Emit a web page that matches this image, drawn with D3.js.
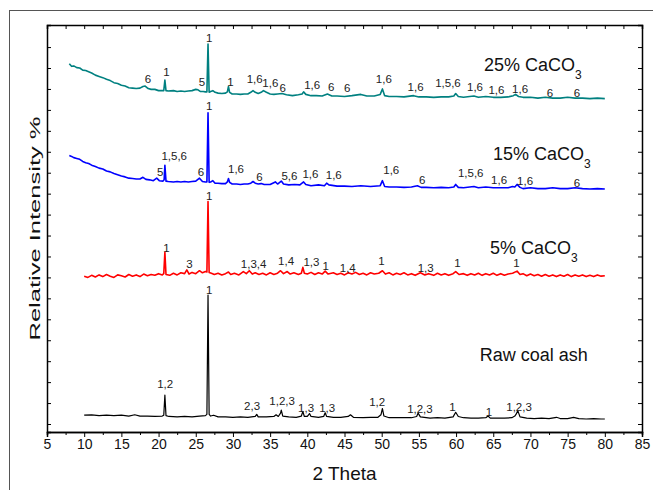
<!DOCTYPE html>
<html><head><meta charset="utf-8">
<script src="https://cdn.jsdelivr.net/npm/d3@7"></script>
<style>body{margin:0;background:#fff}svg{display:block}</style>
</head><body>
<svg id="c" width="653" height="490"></svg>
<script>
// ---------- DATA ----------
const xMajorTicks = d3.range(5, 86, 5);
const xMinorTicks = d3.range(7.5, 85, 5);
const yTicks = d3.range(0, 91, 5);

const coal25 = [[8.0,86.0],[8.3,85.4],[8.6,85.5],[9.0,85.1],[9.4,85.0],[9.8,84.5],[10.2,84.4],[10.6,84.1],[11.0,83.8],[11.5,83.3],[12.0,83.0],[12.5,82.7],[13.0,82.3],[13.5,82.0],[14.0,81.5],[14.5,81.3],[15.0,80.9],[15.5,80.7],[16.0,80.3],[16.5,80.2],[17.0,80.1],[17.5,80.2],[17.9,80.6],[18.2,80.7],[18.6,80.1],[19.0,79.9],[19.5,79.9],[20.0,79.6],[20.5,79.6],[20.7,79.6],[20.85,82.1],[21.0,79.6],[21.3,79.5],[22.0,79.6],[22.5,79.4],[23.0,79.5],[23.5,79.4],[24.0,79.5],[24.5,79.6],[25.0,79.9],[25.3,79.8],[25.6,79.4],[26.0,79.4],[26.3,79.3],[26.5,79.3],[26.65,90.7],[26.8,79.2],[27.0,79.4],[27.3,79.6],[27.6,79.2],[28.0,79.0],[28.5,78.9],[29.0,79.0],[29.25,79.3],[29.4,80.6],[29.55,79.2],[29.9,78.8],[30.5,78.8],[31.0,78.7],[31.5,78.8],[32.0,78.8],[32.4,79.2],[32.7,79.6],[33.0,79.2],[33.4,78.9],[33.8,79.2],[34.1,79.6],[34.5,79.2],[35.0,78.8],[35.5,78.7],[36.0,78.8],[36.6,78.9],[37.2,78.6],[38.0,78.4],[38.8,78.6],[39.3,78.8],[39.5,79.3],[39.8,78.7],[40.5,78.4],[41.2,78.4],[42.0,78.3],[42.7,78.8],[43.3,78.3],[44.0,78.3],[45.0,78.2],[46.0,78.4],[47.2,78.7],[48.0,78.3],[49.0,78.3],[49.8,78.7],[50.1,80.0],[50.4,78.4],[51.0,78.2],[52.0,78.2],[53.0,78.1],[54.3,78.4],[55.0,78.1],[56.0,78.1],[57.0,78.0],[58.0,78.1],[59.0,78.1],[59.7,78.3],[59.95,78.9],[60.3,78.2],[61.0,78.0],[62.4,78.3],[63.0,78.0],[64.0,78.2],[65.0,78.0],[66.0,78.0],[67.0,78.1],[67.7,78.4],[68.0,78.7],[68.4,78.2],[69.0,78.0],[70.0,78.0],[71.0,77.8],[72.0,78.0],[73.0,77.8],[74.0,77.8],[75.0,78.0],[76.0,77.8],[77.0,77.8],[78.0,77.7],[79.0,77.8],[80.0,77.7]];

const coal15 = [[8.0,64.1],[8.3,63.9],[8.6,63.6],[9.0,63.4],[9.4,63.2],[9.8,62.7],[10.2,62.4],[10.6,62.2],[11.0,61.8],[11.5,61.5],[12.0,61.1],[12.5,60.9],[13.0,60.4],[13.5,60.2],[14.0,59.8],[14.5,59.5],[15.0,59.2],[15.5,59.0],[16.0,58.7],[16.5,58.6],[17.0,58.5],[17.5,58.5],[17.9,58.9],[18.3,58.4],[18.8,58.3],[19.3,58.1],[19.75,58.7],[20.1,58.1],[20.6,58.0],[20.75,58.3],[20.85,61.8],[21.0,58.0],[21.3,57.9],[22.0,57.8],[22.5,57.9],[23.0,57.8],[23.5,57.9],[24.0,57.8],[24.5,57.9],[25.0,58.0],[25.5,58.7],[25.9,57.9],[26.3,57.8],[26.5,57.8],[26.65,74.3],[26.8,57.7],[27.0,57.8],[27.3,58.1],[27.6,57.5],[28.0,57.5],[28.5,57.4],[29.0,57.4],[29.25,57.8],[29.4,58.6],[29.55,57.7],[29.9,57.3],[30.5,57.3],[31.0,57.2],[31.5,57.3],[32.0,57.3],[32.4,57.5],[32.7,57.9],[33.0,57.5],[33.4,57.3],[33.8,57.4],[34.2,57.2],[35.0,57.2],[35.7,57.8],[36.0,57.3],[36.5,58.0],[36.8,57.3],[37.5,57.1],[38.3,57.2],[39.0,57.1],[39.5,57.8],[39.8,57.2],[40.5,56.9],[41.5,57.1],[42.3,56.9],[42.6,57.5],[42.9,57.1],[44.0,56.8],[45.0,56.8],[46.0,56.7],[47.2,56.9],[48.5,56.7],[49.8,56.9],[50.1,58.1],[50.4,56.7],[51.0,56.6],[52.0,56.6],[53.0,56.5],[54.0,56.6],[54.8,56.9],[55.3,56.5],[56.0,56.5],[57.0,56.4],[58.0,56.5],[59.0,56.4],[59.7,56.6],[59.95,57.2],[60.3,56.5],[61.0,56.4],[62.4,56.7],[63.0,56.4],[64.0,56.6],[65.0,56.4],[66.0,56.4],[67.0,56.4],[67.6,56.7],[67.9,56.6],[68.2,57.2],[68.6,56.5],[69.0,56.2],[70.0,56.4],[71.0,56.2],[72.0,56.2],[73.0,56.4],[74.0,56.2],[75.0,56.2],[76.0,56.4],[77.0,56.2],[78.0,56.1],[79.0,56.2],[80.0,56.1]];

const coal5 = [[10.0,35.3],[10.5,35.0],[11.0,35.5],[11.5,35.1],[12.0,35.6],[12.5,35.2],[13.0,35.7],[13.5,35.3],[14.0,35.0],[14.5,35.6],[15.0,35.4],[15.5,35.1],[16.0,35.7],[16.5,35.3],[17.0,35.6],[17.5,35.2],[18.0,35.8],[18.5,35.4],[19.0,35.7],[19.5,35.5],[20.0,35.9],[20.5,35.6],[20.7,35.9],[20.85,41.0],[21.0,35.7],[21.5,35.5],[22.0,36.0],[22.5,35.6],[23.0,36.1],[23.5,35.9],[23.8,36.8],[24.1,35.8],[24.5,36.2],[25.0,35.9],[25.5,36.6],[25.9,36.1],[26.3,36.4],[26.5,36.3],[26.65,53.1],[26.8,36.2],[27.1,36.0],[27.5,35.7],[28.0,36.0],[28.5,35.6],[29.0,35.9],[29.4,36.3],[29.7,35.7],[30.2,36.0],[30.8,35.6],[31.4,36.4],[31.8,35.9],[32.2,36.6],[32.6,35.8],[33.0,36.1],[33.5,35.7],[34.0,36.0],[34.5,35.6],[35.0,36.1],[35.5,35.7],[36.0,36.0],[36.4,36.6],[36.8,35.9],[37.3,36.4],[37.7,35.8],[38.2,36.1],[38.8,35.7],[39.2,36.0],[39.4,37.4],[39.6,36.0],[40.0,35.8],[40.5,36.2],[41.0,35.7],[41.5,36.1],[42.0,35.8],[42.4,36.5],[42.8,35.8],[43.5,36.1],[44.0,35.7],[44.5,36.0],[45.0,35.6],[45.5,36.1],[46.0,35.8],[46.5,36.2],[47.0,35.7],[47.5,36.0],[48.0,35.6],[48.5,36.1],[49.0,35.8],[49.6,36.0],[50.1,36.6],[50.5,35.8],[51.0,36.1],[51.5,35.6],[52.0,36.0],[52.5,35.7],[53.0,36.1],[53.5,35.6],[54.0,35.9],[54.5,35.5],[55.2,36.1],[55.8,35.6],[56.3,35.9],[57.0,35.5],[57.5,36.0],[58.0,35.6],[58.5,35.9],[59.0,35.5],[59.6,35.9],[59.95,36.4],[60.4,35.7],[61.0,35.9],[61.5,35.5],[62.0,35.9],[62.5,35.6],[63.0,36.0],[63.5,35.5],[64.0,35.9],[64.5,35.6],[65.0,36.0],[65.5,35.5],[66.0,35.9],[66.5,35.5],[67.0,35.8],[67.6,36.0],[68.2,36.5],[68.6,35.7],[69.0,35.9],[69.5,35.4],[70.0,35.8],[70.5,35.4],[71.0,35.7],[71.5,35.3],[72.0,35.7],[72.5,35.3],[73.0,35.6],[73.5,35.2],[74.0,35.6],[74.5,35.3],[75.0,35.7],[75.5,35.2],[76.0,35.6],[76.5,35.3],[77.0,35.6],[77.5,35.2],[78.0,35.5],[78.5,35.2],[79.0,35.6],[79.5,35.3],[80.0,35.4]];

const rawAsh = [[10.0,2.1],[11.0,2.2],[12.0,2.0],[13.0,2.1],[14.0,2.0],[15.0,2.1],[16.0,1.9],[16.8,2.2],[17.5,1.9],[18.5,1.9],[19.5,1.8],[20.5,1.9],[20.7,2.1],[20.85,6.9],[21.0,2.0],[21.4,1.8],[22.5,1.7],[23.5,1.8],[24.5,1.7],[25.5,1.9],[26.3,2.0],[26.5,2.3],[26.65,30.8],[26.8,2.3],[27.0,1.9],[27.4,2.1],[28.0,1.7],[29.0,1.7],[30.0,1.6],[31.0,1.7],[32.0,1.6],[33.0,1.8],[33.2,2.3],[33.4,1.7],[34.5,1.7],[35.5,1.8],[35.8,2.2],[36.1,1.8],[36.4,2.6],[36.5,3.3],[36.7,1.9],[37.5,1.7],[38.5,1.6],[39.2,1.9],[39.4,3.0],[39.6,1.8],[40.0,1.8],[40.3,2.5],[40.5,1.8],[41.5,1.6],[42.2,1.8],[42.4,2.7],[42.6,1.8],[43.5,1.6],[44.5,1.6],[45.5,1.8],[45.8,2.2],[46.2,1.6],[47.5,1.5],[48.5,1.6],[49.5,1.6],[49.9,2.2],[50.1,3.7],[50.3,1.9],[51.0,1.5],[52.0,1.5],[53.0,1.5],[54.0,1.5],[54.7,1.8],[54.9,2.6],[55.2,1.7],[56.5,1.4],[57.5,1.5],[58.5,1.4],[59.6,1.7],[59.95,2.8],[60.3,1.8],[61.0,1.5],[62.0,1.4],[63.0,1.4],[64.0,1.5],[64.3,1.9],[64.6,1.4],[65.5,1.4],[66.5,1.4],[67.5,1.5],[67.9,1.9],[68.1,2.4],[68.3,3.2],[68.6,1.7],[69.5,1.4],[70.5,1.3],[71.5,1.4],[72.5,1.3],[73.5,1.6],[74.0,1.3],[75.0,1.3],[75.8,1.6],[76.5,1.3],[77.5,1.2],[78.5,1.3],[79.5,1.2],[80.0,1.2]];

// peak annotations: [text, 2theta, intensity]
const peaks25 = [["6",18.56,82.4],["1",21.07,84.0],["5",25.84,81.6],["1",26.82,92.1],["1",29.65,81.6],["1,6",32.92,82.4],["1,6",35.03,81.35],["6",36.69,80.3],["1,6",40.65,80.9],["6",43.21,80.5],["6",45.36,80.2],["1,6",50.29,82.3],["1,6",54.56,80.5],["1,5,6",58.91,81.35],["1,6",62.55,80.5],["1,6",65.43,79.75],["1,6",68.61,79.9],["6",72.61,79.1],["6",76.25,79.1]];
const peaks15 = [["5",20.22,60.1],["1,5,6",22.1,64.06],["6",25.7,60.1],["1",26.82,75.9],["1,6",30.41,60.9],["6",33.55,59.05],["5,6",37.59,59.2],["1,6",40.42,59.7],["1,6",43.56,59.5],["1,6",51.29,60.65],["6",55.46,58.26],["1,5,6",61.97,59.86],["1,6",65.78,58.26],["1,6",69.28,58.0],["6",76.25,57.5]];
const peaks5 = [["1",21.07,41.95],["3",24.17,38.13],["1",26.82,54.44],["1,3,4",32.78,38.2],["1,4",37.15,39.0],["1,3",40.56,38.75],["1",42.48,37.73],["1,4",45.44,37.32],["1",49.98,38.92],["1,3",55.91,37.32],["1",60.18,38.5],["1",68.12,38.5]];
const peaksRaw = [["1,2",20.89,9.55],["1",26.82,32.0],["2,3",32.57,4.37],["1,2,3",36.61,5.56],["1,3",39.84,3.75],["1,3",42.67,3.89],["1,2",49.4,5.32],["1,2,3",55.14,3.51],["1",59.5,4.13],["1",64.43,2.94],["1,2,3",68.47,4.13]];

// series names: [main, subscript, 2theta (left edge), intensity]
const seriesNames = [["25% CaCO","3",63.76,85.7],["15% CaCO","3",64.97,64.6],["5% CaCO","3",64.57,42.1],["Raw coal ash","",63.18,16.5]];
const seriesColors = ["#008080","#0000ff","#ff0000","#000000"];

// ---------- DRAW ----------
const svg = d3.select("#c");
const L = 47, R = 642, T = 25, B = 432;
const x = d3.scaleLinear().domain([5, 85]).range([L, R]);
const y = d3.scaleLinear().domain([-1.91, 95.27]).range([B, T]);
const font = "'Liberation Sans', Arial, sans-serif";

svg.append("rect").attr("x", 9.5).attr("y", 10.5).attr("width", 700).attr("height", 600)
  .attr("fill", "none").attr("stroke", "#555").attr("stroke-width", 1);

// series lines
const line = d3.line().x(d => x(d[0])).y(d => y(d[1]));
const allSeries = [coal25, coal15, coal5, rawAsh];
const widths = [1.6, 1.6, 1.6, 1.2];
allSeries.forEach((s, i) => {
  svg.append("path").datum(s).attr("d", line).attr("fill", "none")
    .attr("stroke", seriesColors[i]).attr("stroke-width", widths[i]).attr("stroke-linejoin", "round");
});

// axes
const g = svg.append("g");
const bottom = g.append("g").attr("transform", `translate(0,${B})`)
  .call(d3.axisBottom(x).tickValues(xMajorTicks).tickSize(5).tickPadding(2).tickFormat(d3.format("d")));
g.append("g").attr("transform", `translate(0,${B})`)
  .call(d3.axisBottom(x).tickValues(xMinorTicks).tickSize(3).tickFormat(""));
g.append("g").attr("transform", `translate(0,${T})`)
  .call(d3.axisBottom(x).tickValues(xMajorTicks.concat(xMinorTicks)).tickSize(4).tickFormat(""));
g.append("g").attr("transform", `translate(${L},0)`)
  .call(d3.axisRight(y).tickValues(yTicks).tickSize(4).tickFormat(""));
g.append("g").attr("transform", `translate(${R},0)`)
  .call(d3.axisLeft(y).tickValues(yTicks).tickSize(4).tickFormat(""));
g.selectAll(".domain").attr("stroke", "#000").attr("stroke-width", 1.5);
g.selectAll(".tick line").attr("stroke", "#000");
bottom.selectAll("text").attr("font-family", font).attr("font-size", 14).attr("fill", "#111");

// axis titles
svg.append("text").attr("x", (L + R) / 2).attr("y", 480).attr("text-anchor", "middle")
  .attr("font-family", font).attr("font-size", 19).attr("fill", "#111").text("2 Theta");
svg.append("text").attr("transform", `translate(35,${(T + B) / 2}) rotate(-90)`)
  .attr("text-anchor", "middle").attr("dy", "0.35em")
  .attr("font-family", font).attr("font-size", 15.5).attr("fill", "#111")
  .attr("textLength", 224).attr("lengthAdjust", "spacingAndGlyphs")
  .text("Relative Intensity %");

// peak annotations
[peaks25, peaks15, peaks5, peaksRaw].forEach(arr => {
  svg.append("g").selectAll("text").data(arr).join("text")
    .attr("x", d => x(d[1])).attr("y", d => y(d[2])).attr("dy", "0.35em")
    .attr("text-anchor", "middle").attr("font-family", font).attr("font-size", 11.5)
    .attr("fill", "#222").text(d => d[0]);
});

// series names
seriesNames.forEach(d => {
  const t = svg.append("text").attr("x", x(d[2])).attr("y", y(d[3])).attr("dy", "0.35em")
    .attr("font-family", font).attr("font-size", 18).attr("fill", "#111");
  t.append("tspan").text(d[0]);
  if (d[1]) t.append("tspan").attr("dy", 8).attr("font-size", 12).text(d[1]);
});
</script>
</body></html>
